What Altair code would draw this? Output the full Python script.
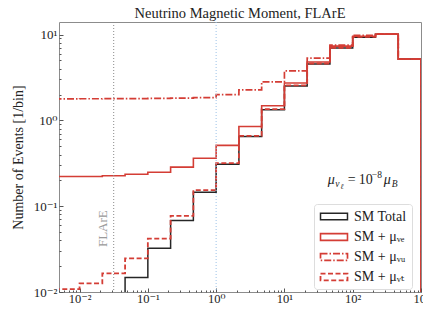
import math
import altair as alt
import pandas as pd

# ---------------- data ----------------
bin_edges = [10 ** (-7 / 3 + k / 3) for k in range(17)]
series_names = ["SM Total", "SM + μᵥₑ", "SM + μᵥᵤ", "SM + μᵥₜ"]
sm_total = [0, 0, 0, 0.0148, 0.0324, 0.0682, 0.145, 0.308, 0.650, 1.33,
            2.52, 4.54, 6.95, 9.3, 10.1, 5.18]
sm_mu_e = [0.222, 0.222, 0.226, 0.236, 0.249, 0.285, 0.362, 0.511, 0.848,
           1.48, 2.73, 4.78, 7.32, 9.55, 10.1, 5.18]
sm_mu_mu = [1.78, 1.785, 1.79, 1.79, 1.80, 1.82, 1.84, 1.99, 2.27, 2.81,
            3.77, 5.32, 7.52, 9.8, 10.15, 5.18]
sm_mu_tau = [0.0108, 0.0126, 0.0165, 0.0246, 0.0419, 0.0773, 0.154, 0.317,
             0.66, 1.35, 2.55, 4.6, 7.0, 9.4, 10.1, 5.18]
series_values = [sm_total, sm_mu_e, sm_mu_mu, sm_mu_tau]

series_colors = ["#262626", "#d43d35", "#d43d35", "#d43d35"]
series_dash = [[1, 0], [1, 0], [7, 2, 1.5, 2], [5, 2.5]]
series_width = [1.5, 1.8, 1.6, 1.6]

x_major = [0.01, 0.1, 1, 10, 100, 1000]
x_major_labels = ["10⁻²", "10⁻¹", "10⁰", "10¹", "10²", "10³"]
y_major = [0.01, 0.1, 1, 10]
y_major_labels = ["10⁻²", "10⁻¹", "10⁰", "10¹"]
x_minor = [m * 10 ** e for e in range(-3, 3) for m in range(2, 10)
           if 0.005 <= m * 10 ** e <= 1000]
y_minor = [m * 10 ** e for e in range(-2, 2) for m in range(2, 10)
           if m * 10 ** e <= 14]

flare_line = 10 ** -1.5
unit_line = 1.0

FLOOR = 1e-4
X_DOMAIN = [0.005, 1000]
Y_DOMAIN = [0.01, 14]
FONT = "Liberation Serif, DejaVu Serif, serif"

# ---------------- step outlines ----------------
rows = []
for name, vals in zip(series_names, series_values):
    pts = [(bin_edges[0], FLOOR)]
    pts += [(bin_edges[k], max(v, FLOOR)) for k, v in enumerate(vals)]
    pts += [(bin_edges[-1], max(vals[-1], FLOOR)), (bin_edges[-1], FLOOR)]
    for i, (x, y) in enumerate(pts):
        rows.append({"series": name, "x": x, "y": y, "i": i})
hist_df = pd.DataFrame(rows)


def label_expr(vals, labels):
    expr = "''"
    for v, lab in zip(reversed(vals), reversed(labels)):
        expr = (f"abs(log(datum.value)/log(10) - ({math.log10(v)})) < 0.01"
                f" ? '{lab}' : ({expr})")
    return expr


xs = alt.Scale(type="log", domain=X_DOMAIN, nice=False)
ys = alt.Scale(type="log", domain=Y_DOMAIN, nice=False)

x_axis = alt.Axis(values=x_major, labelExpr=label_expr(x_major, x_major_labels),
                  grid=False, domain=False, offset=-4, tickSize=4,
                  tickColor="#555", labelPadding=10, labelBaseline="alphabetic",
                  labelFontSize=12.5,
                  labelFont=FONT, labelColor="#222", title=None,
                  labelFlush=False, labelOverlap=False)
y_axis = alt.Axis(values=y_major, labelExpr=label_expr(y_major, y_major_labels),
                  grid=False, domain=False, offset=-4, tickSize=4,
                  tickColor="#555", labelPadding=2, labelFontSize=13,
                  labelFont=FONT, labelColor="#222",
                  title="Number of Events [1/bin]", titleFont=FONT,
                  titleFontSize=14, titleFontWeight="normal",
                  titleColor="#222", titlePadding=8,
                  labelFlush=False, labelOverlap=False)

hist = alt.Chart(hist_df).mark_line(interpolate="step-after", clip=True).encode(
    x=alt.X("x:Q", scale=xs, axis=x_axis),
    y=alt.Y("y:Q", scale=ys, axis=y_axis),
    order="i:Q",
    color=alt.Color("series:N", sort=series_names,
                    scale=alt.Scale(domain=series_names, range=series_colors),
                    legend=alt.Legend(title=None, orient="none",
                                      legendX=255, legendY=182,
                                      symbolType="M-2,-0.5H2V0.5H-2Z",
                                      symbolSize=182, symbolStrokeWidth=1.5,
                                      symbolFillColor="transparent",
                                      symbolOffset=7,
                                      labelFont=FONT, labelFontSize=14,
                                      labelColor="#222", rowPadding=5,
                                      labelOffset=12,
                                      fillColor="white", strokeColor="#dddddd",
                                      cornerRadius=3, padding=5)),
    strokeDash=alt.StrokeDash("series:N", sort=series_names,
                              scale=alt.Scale(domain=series_names, range=series_dash)),
    strokeWidth=alt.StrokeWidth("series:N", sort=series_names,
                                scale=alt.Scale(domain=series_names, range=series_width),
                                legend=None),
)

vlines_df = pd.DataFrame({"x": [flare_line, unit_line],
                          "c": ["#8a8a8a", "#9cc2e8"]})
vlines = alt.Chart(vlines_df).mark_rule(strokeDash=[1, 2], strokeWidth=1).encode(
    x=alt.X("x:Q", scale=xs),
    color=alt.Color("c:N", scale=None),
)

flare_df = pd.DataFrame({"x": [0.0217], "y": [0.0547], "t": ["FLArE"]})
flare_text = alt.Chart(flare_df).mark_text(
    angle=270, align="center", baseline="middle", font=FONT,
    fontSize=13, color="#9a9a9a").encode(
    x=alt.X("x:Q", scale=xs), y=alt.Y("y:Q", scale=ys), text="t:N")

# annotation  mu_{nu_l} = 10^{-8} mu_B  assembled from pieces
ann_x, ann_y = 43.2, 0.181
ann_parts = [("μ", 0, 0, 14, "italic"), ("ν", 7.5, 3, 9.5, "italic"),
             ("ℓ", 12.5, 5, 7.5, "italic"), ("=", 20, 0, 14, "normal"),
             ("10", 31, 0, 14, "normal"), ("−8", 44, -6, 9.5, "normal"),
             ("μ", 56, 0, 14, "italic"), ("B", 64, 3, 9.5, "italic")]
ann_layers = []
for t, dx, dy, fs, st in ann_parts:
    ann_layers.append(
        alt.Chart(pd.DataFrame({"x": [ann_x], "y": [ann_y], "t": [t]}))
        .mark_text(align="left", baseline="alphabetic", dx=dx, dy=dy,
                   fontSize=fs, fontStyle=st, font=FONT, color="#222")
        .encode(x=alt.X("x:Q", scale=xs), y=alt.Y("y:Q", scale=ys), text="t:N"))

main = alt.layer(hist, vlines, flare_text, *ann_layers)

# minor ticks (inward, shorter)
minor = alt.Chart(pd.DataFrame({"x": [1.0], "y": [1.0]})).mark_point(opacity=0).encode(
    x=alt.X("x:Q", scale=alt.Scale(type="log", domain=X_DOMAIN, nice=False),
            axis=alt.Axis(orient="bottom", values=x_minor, labels=False,
                          grid=False, domain=False, offset=-2, tickSize=2,
                          tickColor="#555", title=None)),
    y=alt.Y("y:Q", scale=alt.Scale(type="log", domain=Y_DOMAIN, nice=False),
            axis=alt.Axis(orient="left", values=y_minor, labels=False,
                          grid=False, domain=False, offset=-2, tickSize=2,
                          tickColor="#555", title=None)),
)

chart = alt.layer(main, minor).resolve_scale(x="independent", y="independent").properties(
    width=362, height=270,
    title=alt.TitleParams("Neutrino Magnetic Moment,  FLArE", font=FONT,
                          fontSize=14.5, fontWeight="normal", color="#222",
                          offset=0),
    autosize=alt.AutoSizeParams(type="none"),
    padding={"left": 51, "top": 14, "right": 2, "bottom": 11},
).configure_view(stroke="#8c8c8c", strokeWidth=1)

chart.save("out.html", embed_options={"renderer": "svg", "actions": False})
